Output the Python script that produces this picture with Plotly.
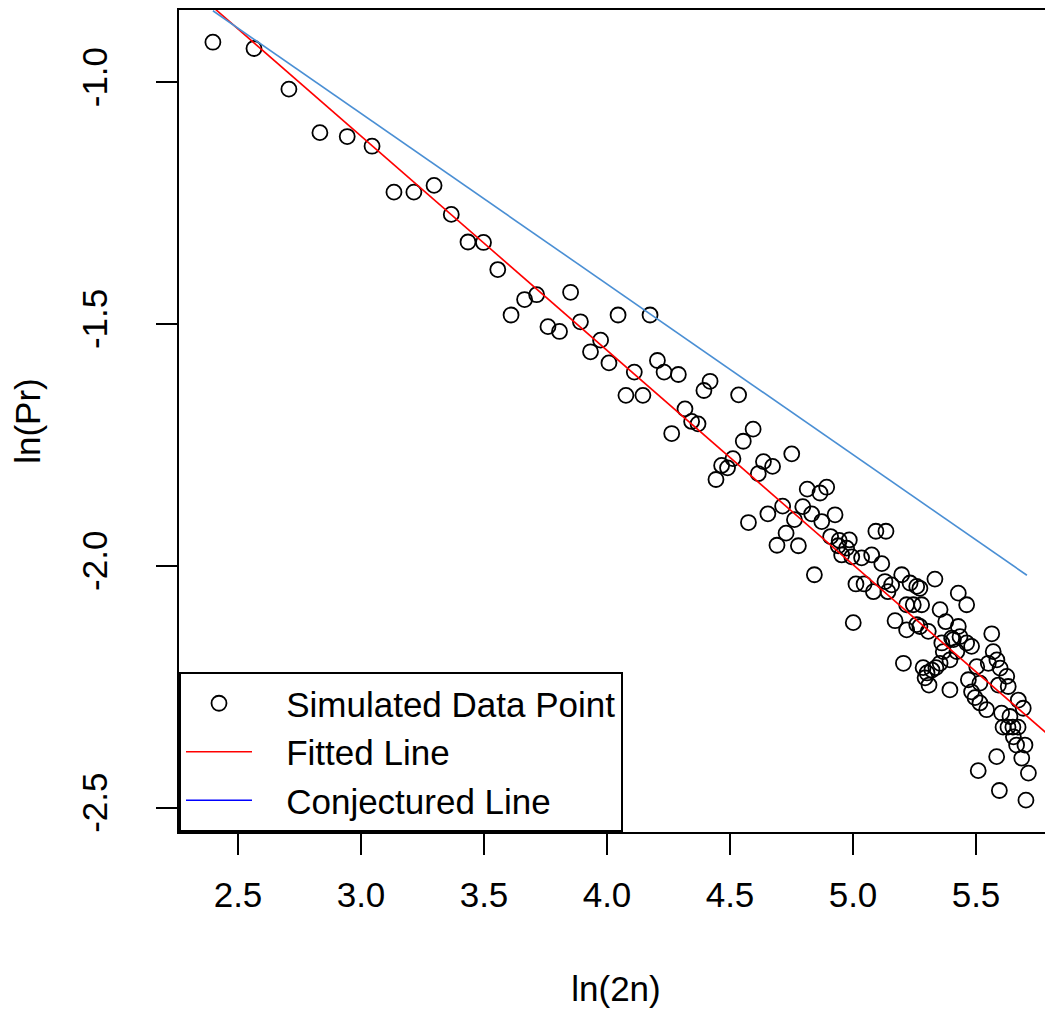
import plotly.graph_objects as go

# Simulated data points: ln(2n) vs ln(Pr)
ln_2n = [
    2.398, 2.565, 2.707, 2.833, 2.944, 3.045, 3.134, 3.215, 3.297, 3.367,
    3.435, 3.498, 3.556, 3.610, 3.665, 3.714, 3.760, 3.807, 3.852, 3.892,
    3.933, 3.974, 4.008, 4.045, 4.077, 4.111, 4.146, 4.175, 4.205, 4.232,
    4.263, 4.290, 4.317, 4.344, 4.370, 4.394, 4.419, 4.443, 4.466, 4.490,
    4.512, 4.535, 4.554, 4.575, 4.594, 4.615, 4.636, 4.654, 4.673, 4.691,
    4.714, 4.728, 4.751, 4.762, 4.778, 4.796, 4.814, 4.832, 4.843, 4.866,
    4.873, 4.893, 4.909, 4.927, 4.940, 4.944, 4.954, 4.974, 4.985, 4.995,
    5.001, 5.012, 5.035, 5.045, 5.076, 5.083, 5.093, 5.117, 5.134, 5.130,
    5.157, 5.142, 5.171, 5.198, 5.205, 5.218, 5.218, 5.232, 5.245, 5.259,
    5.259, 5.272, 5.279, 5.272, 5.306, 5.285, 5.301, 5.321, 5.337, 5.293,
    5.309, 5.354, 5.333, 5.354, 5.361, 5.367, 5.377, 5.394, 5.394, 5.401,
    5.408, 5.422, 5.428, 5.428, 5.435, 5.462, 5.462, 5.469, 5.482, 5.482,
    5.503, 5.496, 5.516, 5.543, 5.516, 5.550, 5.564, 5.570, 5.509, 5.585,
    5.584, 5.591, 5.595, 5.598, 5.604, 5.610, 5.625, 5.630, 5.631, 5.638,
    5.650, 5.652, 5.665, 5.671, 5.672, 5.686, 5.692, 5.699, 5.703, 5.713,
]
ln_pr = [
    -0.917, -0.930, -1.014, -1.104, -1.112, -1.132, -1.227, -1.227, -1.213, -1.273,
    -1.330, -1.331, -1.387, -1.481, -1.449, -1.439, -1.505, -1.515, -1.434, -1.495,
    -1.557, -1.533, -1.580, -1.481, -1.647, -1.599, -1.647, -1.481, -1.575, -1.599,
    -1.726, -1.604, -1.675, -1.701, -1.706, -1.637, -1.618, -1.821, -1.792, -1.797,
    -1.778, -1.646, -1.742, -1.910, -1.717, -1.809, -1.784, -1.892, -1.794, -1.957,
    -1.876, -1.932, -1.768, -1.904, -1.958, -1.877, -1.841, -1.892, -2.018, -1.849,
    -1.908, -1.837, -1.939, -1.894, -1.958, -1.947, -1.977, -1.963, -1.946, -1.981,
    -2.117, -2.037, -1.983, -2.037, -1.977, -2.053, -1.928, -1.995, -1.928, -2.032,
    -2.039, -2.053, -2.113, -2.018, -2.201, -2.080, -2.132, -2.035, -2.080, -2.042,
    -2.121, -2.046, -2.080, -2.125, -2.135, -2.210, -2.221, -2.215, -2.210, -2.231,
    -2.246, -2.201, -2.027, -2.090, -2.159, -2.177, -2.115, -2.194, -2.256, -2.149,
    -2.152, -2.177, -2.056, -2.125, -2.146, -2.080, -2.159, -2.235, -2.166, -2.260,
    -2.208, -2.272, -2.283, -2.297, -2.242, -2.201, -2.140, -2.177, -2.423, -2.194,
    -2.394, -2.246, -2.464, -2.211, -2.304, -2.333, -2.228, -2.333, -2.249, -2.311,
    -2.333, -2.353, -2.370, -2.333, -2.277, -2.397, -2.294, -2.370, -2.484, -2.428,
]

# Fitted regression line (abline): intercept and slope
fit_intercept = 0.218
fit_slope = -0.443

# Conjectured line endpoints
conj_x = [2.398, 5.707]
conj_y = [-0.852, -2.019]

# Legend labels
legend_labels = ["Simulated Data Point", "Fitted Line", "Conjectured Line"]

# Axis ranges and ticks
x_range = [2.2602, 5.8130]
y_range = [-2.5498, -0.8504]
x_ticks = [2.5, 3.0, 3.5, 4.0, 4.5, 5.0, 5.5]
x_tick_labels = ["2.5", "3.0", "3.5", "4.0", "4.5", "5.0", "5.5"]
y_ticks = [-1.0, -1.5, -2.0, -2.5]
y_tick_labels = ["-1.0", "-1.5", "-2.0", "-2.5"]

FONT = "Liberation Sans, Arial, sans-serif"
FS = 35
PAD = "\u00a0\u00a0\u00a0"  # gap between legend symbol and label, as in the original

fig = go.Figure()

fig.add_trace(go.Scatter(
    x=ln_2n, y=ln_pr, mode="markers", name=PAD + legend_labels[0],
    marker=dict(symbol="circle-open", size=15, color="black",
                line=dict(color="black", width=1.8)),
))

fit_x = list(x_range)
fit_y = [fit_intercept + fit_slope * v for v in fit_x]
fig.add_trace(go.Scatter(
    x=fit_x, y=fit_y, mode="lines", name=PAD + legend_labels[1],
    line=dict(color="#ff0000", width=1.6),
))

fig.add_trace(go.Scatter(
    x=conj_x, y=conj_y, mode="lines", name=legend_labels[2],
    line=dict(color="#4a8fd4", width=1.6), showlegend=False,
))
# legend entry for the conjectured line (drawn in pure blue, as in the original legend)
fig.add_trace(go.Scatter(
    x=[None], y=[None], mode="lines", name=PAD + legend_labels[2],
    line=dict(color="#0000ff", width=1.6),
))

axis_common = dict(
    showgrid=False, zeroline=False, showline=True, linecolor="black",
    linewidth=2, mirror=True, ticks="outside", ticklen=21, tickwidth=2,
    tickcolor="black", tickfont=dict(family=FONT, size=FS, color="black"),
)

# The page body has an 8px default margin; the figure is sized to fill the rest.
fig.update_layout(
    width=1045, height=1005,
    margin=dict(l=171, r=0, t=2, b=181, autoexpand=False),
    paper_bgcolor="white", plot_bgcolor="white",
    font=dict(family=FONT, size=FS, color="black"),
    xaxis=dict(range=x_range, tickvals=x_ticks, ticktext=x_tick_labels,
               title=dict(text="ln(2n)", standoff=63,
                          font=dict(family=FONT, size=FS, color="black")),
               automargin=False, ticklabelstandoff=10, **axis_common),
    yaxis=dict(range=y_range, tickvals=y_ticks, ticktext=y_tick_labels,
               tickangle=-90,
               title=dict(text="ln(Pr)", standoff=36,
                          font=dict(family=FONT, size=FS, color="black")),
               automargin=False, ticklabelstandoff=35, **axis_common),
    legend=dict(x=0, y=0, xanchor="left", yanchor="bottom",
                bgcolor="white", bordercolor="black", borderwidth=2,
                font=dict(family=FONT, size=FS, color="black"),
                itemwidth=66, tracegroupgap=0),
    showlegend=True,
)

fig.write_html("out.html")
